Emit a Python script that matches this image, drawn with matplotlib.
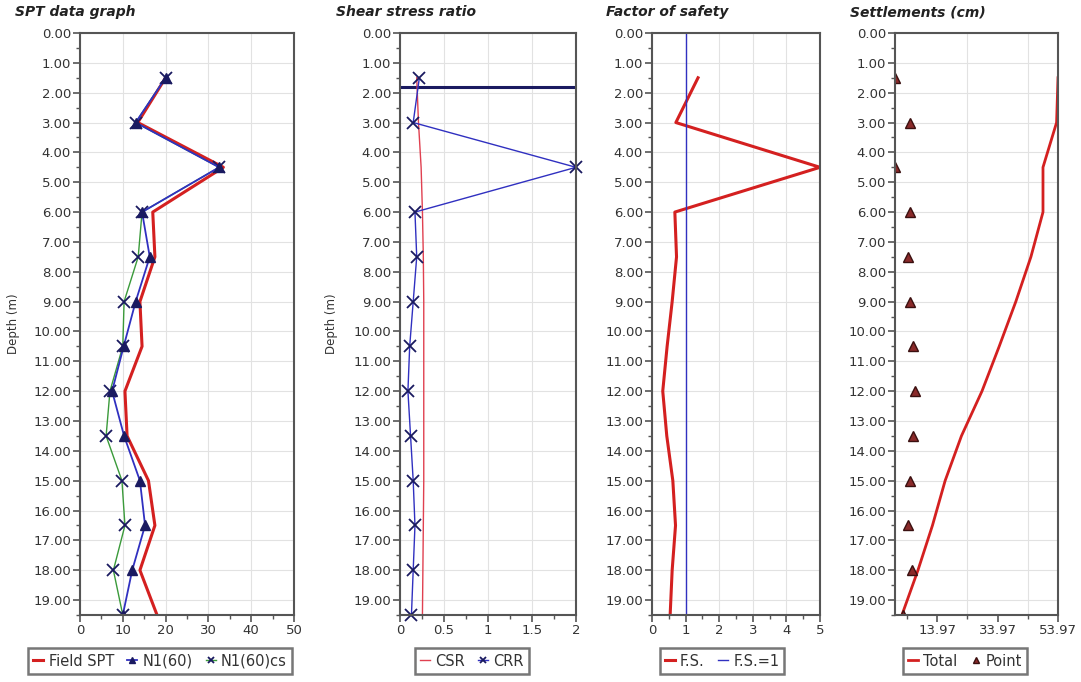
import matplotlib
matplotlib.use("Agg")
import matplotlib.pyplot as plt
from matplotlib.ticker import MultipleLocator, FixedLocator, FormatStrFormatter, FixedFormatter

# depth of every layer (m)
depth = [1.5, 3.0, 4.5, 6.0, 7.5, 9.0, 10.5, 12.0, 13.5, 15.0, 16.5, 18.0, 19.5]

# SPT data graph
field_spt = [20, 13.5, 33.5, 17, 17.5, 14, 14.5, 10.5, 11, 16, 17.5, 14, 18]
n1_60 = [20, 13, 32.5, 14.5, 16.3, 13, 10.2, 7.5, 10.3, 14, 15.2, 12.2, 10]
n1_60cs = [20, 13, 32.5, 14.5, 13.6, 10.3, 10, 7, 6.1, 9.8, 10.5, 7.8, 10]

# Shear stress ratio
csr = [0.19, 0.21, 0.24, 0.255, 0.265, 0.27, 0.27, 0.27, 0.27, 0.27, 0.265, 0.26, 0.255]
crr = [0.22, 0.15, 2.0, 0.17, 0.19, 0.15, 0.11, 0.09, 0.12, 0.15, 0.17, 0.15, 0.13]
water_table = 1.8

# Factor of safety
fs = [1.37, 0.71, 5.0, 0.68, 0.73, 0.6, 0.45, 0.32, 0.44, 0.62, 0.7, 0.6, 0.54]
fs_limit = 1.0

# Settlements (cm)
settle_total = [53.97, 53.5, 49.0, 49.0, 45.0, 40.0, 34.5, 28.8, 22.0, 16.6, 12.4, 7.6, 2.3]
settle_point = [0.0, 5.0, 0.0, 5.0, 4.3, 5.0, 6.0, 6.6, 6.0, 5.0, 4.3, 5.6, 2.5]
settle_ticks = [13.97, 33.97, 53.97]
settle_minor = [3.97, 23.97, 43.97]

titles = ["SPT data graph", "Shear stress ratio", "Factor of safety", "Settlements (cm)"]

W, H = 1081, 682
fig = plt.figure(figsize=(W / 100, H / 100), dpi=100)

top, bot = 33, 615
boxes = [(80, 294), (400, 576), (652, 820), (895, 1058)]
axes = []
for l, r in boxes:
    ax = fig.add_axes([l / W, 1 - bot / H, (r - l) / W, (bot - top) / H])
    axes.append(ax)

RED = "#d42020"
PINK = "#e04050"
BLUE = "#3030c0"
NAVY = "#1a1a60"
GREEN = "#3a9a3a"
GRID = "#e2e2e2"
SPINE = "#555555"
TXT = "#333333"

for ax in axes:
    ax.set_ylim(19.5, 0)
    ax.yaxis.set_major_locator(MultipleLocator(1))
    ax.yaxis.set_minor_locator(MultipleLocator(0.5))
    ax.yaxis.set_major_formatter(FormatStrFormatter("%.2f"))
    ax.grid(True, which="major", axis="y", color=GRID, lw=0.8)
    for s in ax.spines.values():
        s.set_color(SPINE)
        s.set_linewidth(1.5)
    ax.tick_params(which="major", length=5, width=1.2, color=SPINE, labelsize=9.5,
                   labelcolor=TXT, pad=1.5)
    ax.tick_params(which="minor", length=3, width=1.0, color=SPINE)
    ax.set_axisbelow(True)

# panel 1
ax = axes[0]
ax.set_xlim(0, 50)
ax.xaxis.set_major_locator(MultipleLocator(10))
ax.xaxis.set_minor_locator(MultipleLocator(5))
ax.grid(True, which="major", axis="x", color=GRID, lw=0.8)
ax.plot(n1_60cs, depth, color=GREEN, lw=1.0, marker="x", ms=8, mew=1.3, mec=NAVY, label="N1(60)cs",
        zorder=2)
ax.plot(n1_60, depth, color=BLUE, lw=1.3, marker="^", ms=7, mfc=NAVY, mec=NAVY, label="N1(60)",
        zorder=2.1)
ax.plot(field_spt, depth, color=RED, lw=2.2, label="Field SPT", zorder=1.9)
ax.set_ylabel("Depth (m)", fontsize=8.5, color=TXT)
ax.yaxis.set_label_coords(-0.28, 0.5)
h, lab = ax.get_legend_handles_labels()
order = [2, 1, 0]
handles1 = ([h[i] for i in order], [lab[i] for i in order])

# panel 2
ax = axes[1]
ax.set_xlim(0, 2)
ax.xaxis.set_major_locator(MultipleLocator(0.5))
ax.xaxis.set_minor_locator(MultipleLocator(0.25))
ax.xaxis.set_major_formatter(FormatStrFormatter("%g"))
ax.grid(True, which="major", axis="x", color=GRID, lw=0.8)
ax.axhline(water_table, color=NAVY, lw=2.2)
ax.plot(csr, depth, color=PINK, lw=1.0, label="CSR")
ax.plot(crr, depth, color=BLUE, lw=1.0, marker="x", ms=8, mew=1.3, mec=NAVY, label="CRR",
        clip_on=False)
ax.set_ylabel("Depth (m)", fontsize=8.5, color=TXT)
ax.yaxis.set_label_coords(-0.352, 0.5)

# panel 3
ax = axes[2]
ax.set_xlim(0, 5)
ax.xaxis.set_major_locator(MultipleLocator(1))
ax.xaxis.set_minor_locator(MultipleLocator(0.5))
ax.grid(True, which="major", axis="x", color=GRID, lw=0.8)
ax.plot(fs, depth, color=RED, lw=2.2, label="F.S.")
ax.axvline(fs_limit, color=BLUE, lw=1.0, label="F.S.=1")

# panel 4
ax = axes[3]
ax.set_xlim(0, settle_ticks[-1])
ax.xaxis.set_major_locator(FixedLocator(settle_ticks))
ax.xaxis.set_major_formatter(FixedFormatter([f"{t:.2f}" for t in settle_ticks]))
ax.xaxis.set_minor_locator(FixedLocator(settle_minor))
for g in settle_minor[1:]:
    ax.axvline(g, color=GRID, lw=0.8, zorder=0)
ax.plot(settle_total, depth, color=RED, lw=2.0, label="Total")
ax.plot(settle_point, depth, ls="none", marker="^", ms=7, mfc="#8a2a2a", mec="#3a1010",
        mew=1.0, label="Point")

title_x = [15, 336, 606, 850]
for t, x in zip(titles, title_x):
    fig.text(x / W, 1 - 12 / H, t, fontsize=10, fontweight="bold", fontstyle="italic",
             color="#222222", va="center", ha="left")

leg_x = [160, 472, 722, 965]
for i, (ax, x) in enumerate(zip(axes, leg_x)):
    if i == 0:
        hh, ll = handles1
    else:
        hh, ll = ax.get_legend_handles_labels()
    leg = ax.legend(hh, ll, loc="center", bbox_to_anchor=(x / W, 1 - 661 / H),
                    bbox_transform=fig.transFigure, ncol=3, fontsize=10.5,
                    handlelength=0.7, handletextpad=0.35, columnspacing=0.9,
                    borderpad=0.35, fancybox=False, markerscale=0.6, labelcolor=TXT)
    leg.get_frame().set_edgecolor(SPINE)
    leg.get_frame().set_linewidth(1.8)

fig.savefig("out.png", dpi=100)
